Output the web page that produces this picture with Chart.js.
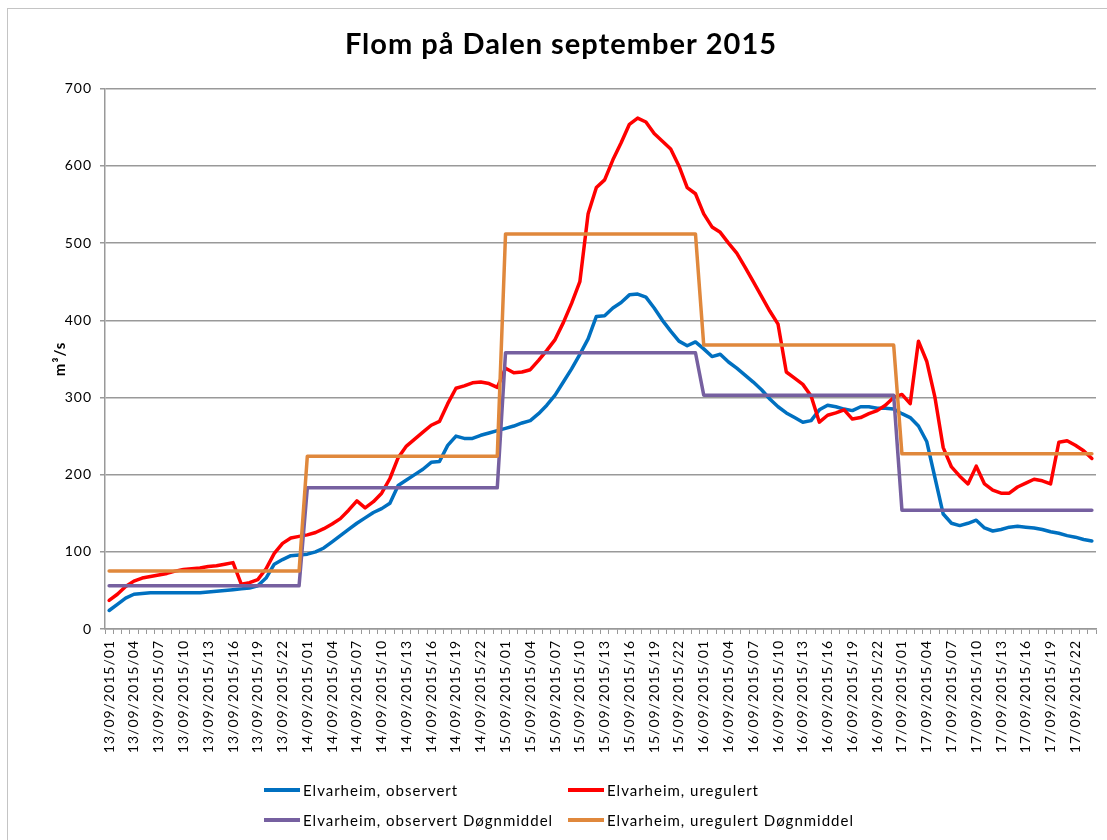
<!DOCTYPE html>
<html><head><meta charset="utf-8">
<script src="https://cdn.jsdelivr.net/npm/chart.js@4.4.1/dist/chart.umd.min.js"></script>
<style>
html,body{margin:0;padding:0;background:#fff;}
#wrap{position:relative;width:1107px;height:840px;overflow:hidden;background:#fff;}
#frame{position:absolute;left:7px;top:8px;width:1108px;height:832px;border-left:1px solid #c4c4c4;border-top:1px solid #c4c4c4;box-sizing:border-box;}
#c{position:absolute;left:7px;top:8px;}
.leg{position:absolute;font:15px Lato, sans-serif;letter-spacing:1px;color:#000;display:flex;align-items:center;white-space:nowrap;height:20px;}
.leg i{display:inline-block;width:36px;height:4px;margin-right:3px;}
</style></head>
<body><div id="wrap"><div id="frame"></div><canvas id="c" width="1108" height="832"></canvas><div id="legend"></div></div>
<script>
const days = ['13/09/2015','14/09/2015','15/09/2015','16/09/2015','17/09/2015'];
const hours = ['01','02','03','04','05','06','07','08','09','10','11','12','13','14','15','16','17','18','19','20','21','22','23','24'];
const yTicks = [0,100,200,300,400,500,600,700];
const seriesNames = ['Elvarheim, observert','Elvarheim, uregulert','Elvarheim, observert Døgnmiddel','Elvarheim, uregulert Døgnmiddel'];

const observert = [
 24,32,40,45,46,47,47,47,47,47,47,47,48,49,50,51,52,53,56,66,84,90,95,96,
 97,100,105,113,121,129,137,144,151,156,163,186,193,200,207,216,217,238,250,247,247,251,254,257,
 260,263,267,270,279,290,303,320,337,356,376,405,406,416,423,433,434,430,416,400,386,373,367,372,
 363,353,356,346,338,329,320,310,298,288,280,274,268,270,284,290,288,285,283,288,288,286,286,285,
 279,274,263,243,196,149,137,134,137,141,131,127,129,132,133,132,131,129,126,124,121,119,116,114];
const uregulert = [
 37,45,55,62,66,68,70,72,75,77,78,79,81,82,84,86,58,60,64,78,98,111,118,120,
 122,125,130,136,143,154,166,157,165,176,195,222,237,246,255,264,269,292,312,315,319,320,318,313,
 338,332,333,336,348,361,375,397,422,450,538,572,582,608,630,654,662,657,642,632,622,600,572,564,
 538,521,514,500,487,469,450,431,412,395,333,325,317,302,268,277,280,284,272,274,279,283,290,300,
 304,292,373,347,300,235,210,198,188,211,188,180,176,176,184,189,194,192,188,242,244,238,231,221];
const observertDogn = [
 56,56,56,56,56,56,56,56,56,56,56,56,56,56,56,56,56,56,56,56,56,56,56,56,
 183,183,183,183,183,183,183,183,183,183,183,183,183,183,183,183,183,183,183,183,183,183,183,183,
 358,358,358,358,358,358,358,358,358,358,358,358,358,358,358,358,358,358,358,358,358,358,358,358,
 303,303,303,303,303,303,303,303,303,303,303,303,303,303,303,303,303,303,303,303,303,303,303,303,
 154,154,154,154,154,154,154,154,154,154,154,154,154,154,154,154,154,154,154,154,154,154,154,154];
const uregulertDogn = [
 75,75,75,75,75,75,75,75,75,75,75,75,75,75,75,75,75,75,75,75,75,75,75,75,
 224,224,224,224,224,224,224,224,224,224,224,224,224,224,224,224,224,224,224,224,224,224,224,224,
 512,512,512,512,512,512,512,512,512,512,512,512,512,512,512,512,512,512,512,512,512,512,512,512,
 368,368,368,368,368,368,368,368,368,368,368,368,368,368,368,368,368,368,368,368,368,368,368,368,
 227,227,227,227,227,227,227,227,227,227,227,227,227,227,227,227,227,227,227,227,227,227,227,227];

const categories = days.flatMap(d => hours.map(h => d + '/' + h));
const colors = ['#0070C0','#FF0000','#7660A0','#E0883C'];
const seriesData = [observert, uregulert, observertDogn, uregulertDogn];

Chart.defaults.font.family = 'Lato, sans-serif';
Chart.defaults.color = '#000';

const spacing = {
  id: 'spacing',
  beforeLayout(c){ c.ctx.letterSpacing = '1px'; },
  beforeDraw(c){ c.ctx.letterSpacing = '1px'; }
};

new Chart(document.getElementById('c'), {
  type: 'line',
  data: {
    labels: categories,
    datasets: seriesData.map((d, k) => ({
      label: seriesNames[k], data: d, borderColor: colors[k], backgroundColor: colors[k],
      order: 4 - k
    }))
  },
  plugins: [spacing],
  options: {
    responsive: false, animation: false, devicePixelRatio: 1,
    elements: {
      line: { borderWidth: 3.5, tension: 0, borderJoinStyle: 'round', borderCapStyle: 'round', fill: false },
      point: { radius: 0, hoverRadius: 0 }
    },
    layout: { padding: { left: 19, right: 19, top: 0, bottom: 0 } },
    plugins: {
      legend: { display: false },
      tooltip: { enabled: false },
      title: { display: true, text: 'Flom på Dalen september 2015', color: '#000',
        font: { size: 29, weight: 'bold' }, padding: { top: 19, bottom: 27 } }
    },
    scales: {
      x: {
        type: 'category', offset: true,
        grid: { offset: true, drawOnChartArea: false, drawTicks: true, tickLength: 5, color: '#999' },
        border: { color: '#999', width: 1.5 },
        ticks: { autoSkip: false, minRotation: 90, maxRotation: 90, padding: 6, font: { size: 14 },
          callback: (v, i) => (i % 3 === 0 ? categories[i] : '') },
        afterFit: s => { s.height = 211; }
      },
      y: {
        min: 0, max: 700,
        afterBuildTicks: s => { s.ticks = yTicks.map(v => ({ value: v })); },
        ticks: { padding: 8, font: { size: 14 } },
        grid: { color: '#999', lineWidth: 1.5, tickLength: 5 },
        border: { color: '#999', width: 1.5 },
        title: { display: true, text: 'm³/s', color: '#000', font: { size: 15, weight: 'bold' }, padding: { top: 25, bottom: 0 } },
        afterFit: s => { s.width = 79; }
      }
    }
  }
});

const legendPos = [[264, 780], [568, 780], [264, 810], [568, 810]];
const lg = document.getElementById('legend');
seriesNames.forEach((n, k) => {
  const d = document.createElement('div');
  d.className = 'leg';
  d.style.left = legendPos[k][0] + 'px';
  d.style.top = legendPos[k][1] + 'px';
  const i = document.createElement('i');
  i.style.background = colors[k];
  d.appendChild(i);
  d.appendChild(document.createTextNode(n));
  lg.appendChild(d);
});
</script>
</body></html>
